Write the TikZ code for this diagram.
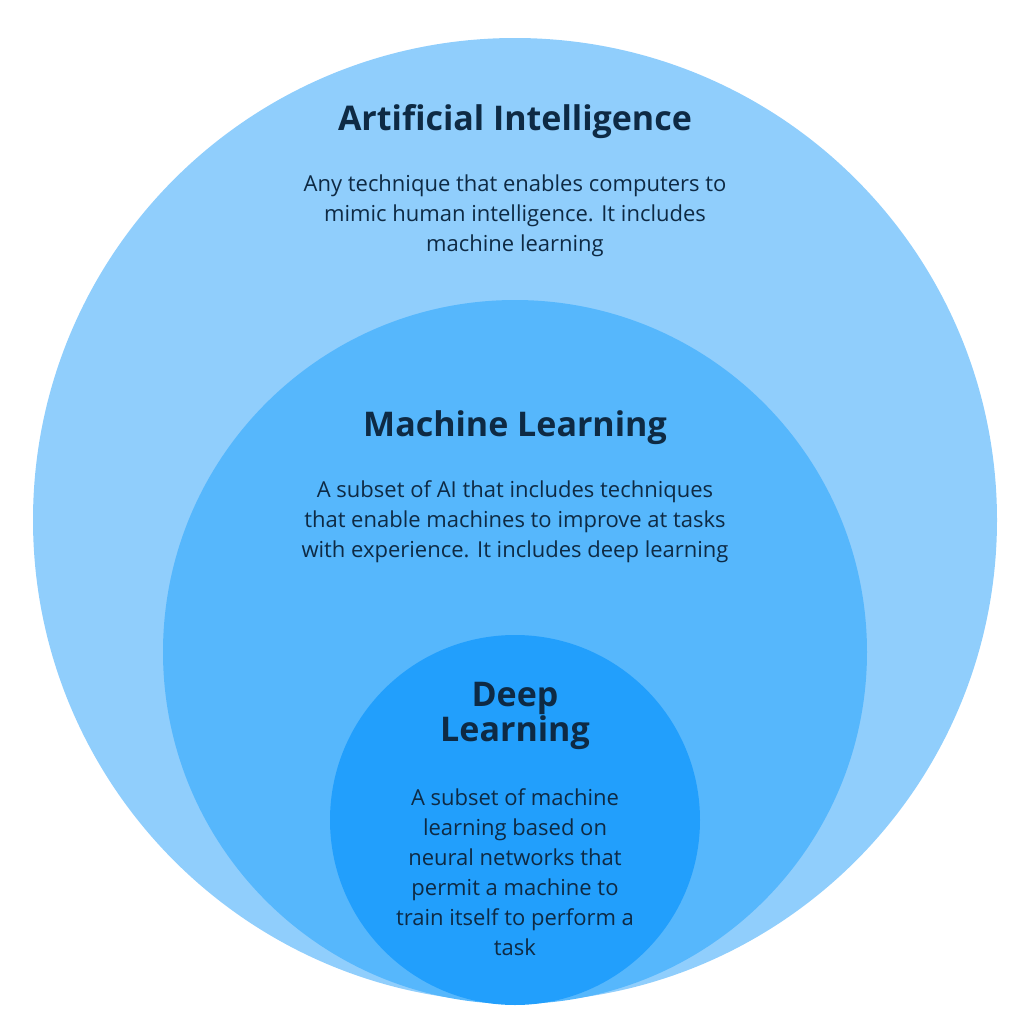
\documentclass[tikz,border=0pt]{standalone}
\usepackage{fontspec}
\setmainfont{Open Sans}
\definecolor{c1}{HTML}{90CEFC}
\definecolor{c2}{HTML}{56B7FC}
\definecolor{c3}{HTML}{229FFC}
\definecolor{tx}{HTML}{0E2A44}
\begin{document}
\begin{tikzpicture}[x=0.75pt,y=-0.75pt,
  ttl/.style={text=tx,font=\fontsize{25.5}{22}\selectfont\bfseries,align=center},
  bdy/.style={text=tx,font=\fontsize{16.5}{22.5}\selectfont,align=center}]
\useasboundingbox (0,0) rectangle (1026,1025);
\fill[c1] (515,520) circle[radius=482];
\fill[c2] (515,652) circle[radius=352];
\fill[c3] (515,820) circle[radius=185];
\node[ttl] (t1) at (515,122) {Artificial Intelligence};
\node[bdy] (b1) at (515,216) {Any technique that enables computers to\\mimic human intelligence. It includes\\machine learning};
\node[ttl] (t2) at (515,428) {Machine Learning};
\node[bdy] (b2) at (515,522) {A subset of AI that includes techniques\\that enable machines to improve at tasks\\with experience. It includes deep learning};
\node[ttl] (t3) at (515,716) {Deep\\Learning};
\node[bdy] (b3) at (515,872) {A subset of machine\\learning based on\\neural networks that\\permit a machine to\\train itself to perform a\\task};
\end{tikzpicture}
\end{document}
